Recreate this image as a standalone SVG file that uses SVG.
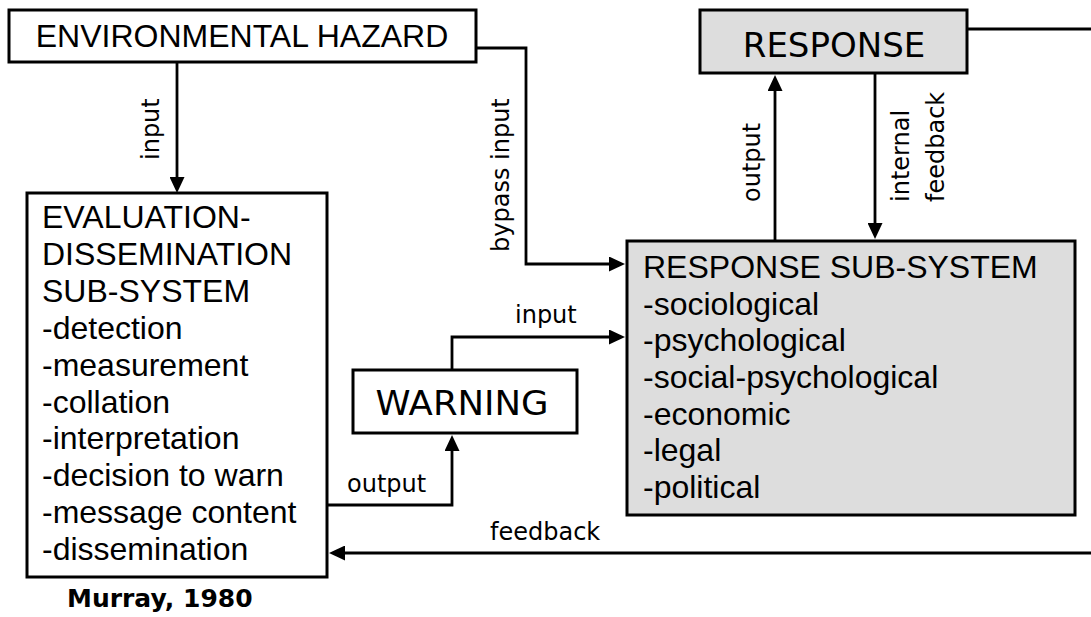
<svg xmlns="http://www.w3.org/2000/svg" width="1091" height="617" viewBox="0 0 1091 617">
  <style>
    .box { fill: #ffffff; stroke: #000000; stroke-width: 3; }
    .gray { fill: #dddddd; stroke: #000000; stroke-width: 3; }
    .t32 { font-family: "Liberation Sans", Arial, sans-serif; font-size: 32px; fill: #000000; }
    .v34 { font-family: "DejaVu Sans", Verdana, sans-serif; font-size: 34px; fill: #000000; }
    .lbl { font-family: "DejaVu Sans", Verdana, sans-serif; font-size: 24px; fill: #000000; }
    .cite { font-family: "DejaVu Sans", Verdana, sans-serif; font-size: 25px; font-weight: bold; fill: #000000; }
    .con { fill: none; stroke: #000000; stroke-width: 2.8; }
  </style>
  <defs>
    <marker id="arr" markerUnits="userSpaceOnUse" markerWidth="16" markerHeight="15" refX="6" refY="7.5" orient="auto">
      <path d="M0,0 L16,7.5 L0,15 z" fill="#000000"/>
    </marker>
  </defs>
  <rect width="1091" height="617" fill="#ffffff"/>

  <g id="connectors">
    <path class="con" d="M177,62 L177,183" marker-end="url(#arr)"/>
    <path class="con" d="M476,48 L526,48 L526,264 L615,264" marker-end="url(#arr)"/>
    <path class="con" d="M452,370 L452,337 L615,337" marker-end="url(#arr)"/>
    <path class="con" d="M327,505 L452,505 L452,445" marker-end="url(#arr)"/>
    <path class="con" d="M775,241 L775,85" marker-end="url(#arr)"/>
    <path class="con" d="M875,73 L875,229" marker-end="url(#arr)"/>
    <path class="con" d="M967,29 L1091,29"/>
    <path class="con" d="M1091,553 L339,553" marker-end="url(#arr)"/>
  </g>

  <g id="labels">
    <text class="lbl" transform="translate(159,160) rotate(-90)">input</text>
    <text class="lbl" transform="translate(509,252) rotate(-90)">bypass input</text>
    <text class="lbl" transform="translate(760,202) rotate(-90)">output</text>
    <text class="lbl" transform="translate(909,202) rotate(-90)">internal</text>
    <text class="lbl" transform="translate(944,202) rotate(-90)">feedback</text>
    <text class="lbl" x="515" y="323">input</text>
    <text class="lbl" x="347" y="492">output</text>
    <text class="lbl" x="490" y="540">feedback</text>
  </g>

  <g id="environmental-hazard">
    <rect class="box" x="9" y="10" width="467" height="52"/>
    <text class="t32" x="242" y="47" text-anchor="middle">ENVIRONMENTAL HAZARD</text>
  </g>

  <g id="evaluation-dissemination">
    <rect class="box" x="27" y="193" width="300" height="384"/>
    <text class="t32" x="42" y="228">EVALUATION-</text>
    <text class="t32" x="42" y="265">DISSEMINATION</text>
    <text class="t32" x="42" y="302">SUB-SYSTEM</text>
    <text class="t32" x="42" y="339">-detection</text>
    <text class="t32" x="42" y="376">-measurement</text>
    <text class="t32" x="42" y="413">-collation</text>
    <text class="t32" x="42" y="449">-interpretation</text>
    <text class="t32" x="42" y="486">-decision to warn</text>
    <text class="t32" x="42" y="523">-message content</text>
    <text class="t32" x="42" y="560">-dissemination</text>
  </g>

  <g id="warning">
    <rect class="box" x="353" y="370" width="224" height="63"/>
    <text class="v34" x="462" y="415" text-anchor="middle" textLength="173" lengthAdjust="spacingAndGlyphs">WARNING</text>
  </g>

  <g id="response">
    <rect class="gray" x="700" y="10" width="267" height="63"/>
    <text class="v34" x="834" y="57" text-anchor="middle">RESPONSE</text>
  </g>

  <g id="response-sub-system">
    <rect class="gray" x="627" y="241" width="448" height="274"/>
    <text class="t32" x="643" y="278">RESPONSE SUB-SYSTEM</text>
    <text class="t32" x="643" y="315">-sociological</text>
    <text class="t32" x="643" y="351">-psychological</text>
    <text class="t32" x="643" y="388">-social-psychological</text>
    <text class="t32" x="643" y="425">-economic</text>
    <text class="t32" x="643" y="461">-legal</text>
    <text class="t32" x="643" y="498">-political</text>
  </g>

  <g id="citation">
    <text class="cite" x="67" y="607">Murray, 1980</text>
  </g>
</svg>
